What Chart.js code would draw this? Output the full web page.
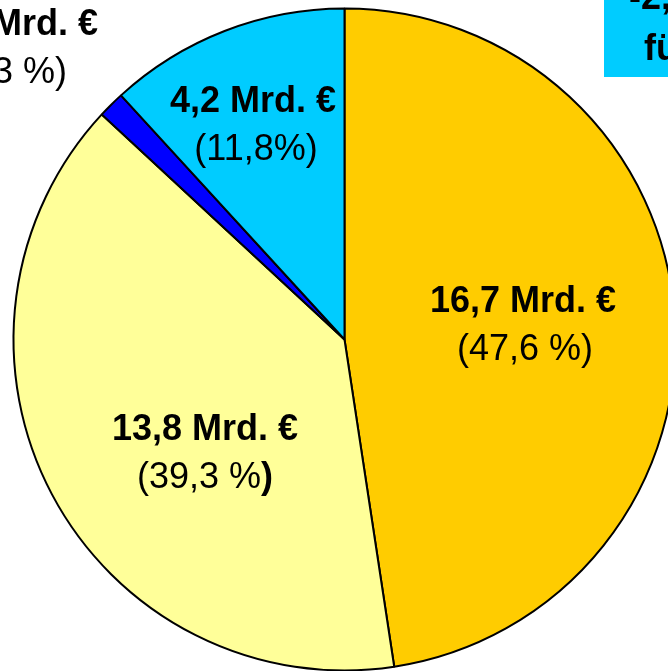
<!DOCTYPE html>
<html>
<head>
<meta charset="utf-8">
<script src="https://cdn.jsdelivr.net/npm/chart.js@4"></script>
<style>
  html, body { margin: 0; padding: 0; background: #fff; overflow: hidden; }
  #wrap { position: relative; width: 668px; height: 671px; overflow: hidden; }
  canvas { position: absolute; left: 0; top: 0; }
</style>
</head>
<body>
<div id="wrap"><canvas id="pie" width="689" height="679"></canvas></div>
<script>
// slice data, clockwise from 12 o'clock
const categories = ["A", "B", "C", "D"];
const shares = [47.6, 39.3, 1.3, 11.8];
const amountLabels = ["16,7 Mrd. €", "13,8 Mrd. €", "0,5 Mrd. €", "4,2 Mrd. €"];
const shareLabels = ["(47,6 %)", "(39,3 %)", "(1,3 %)", "(11,8%)"];
const boldCloseParen = [false, true, false, false];
const sliceColors = ["#FFCC00", "#FFFF99", "#0000FF", "#00CCFF"];

// where the two text lines of each slice go (center x, baseline of first line)
const labelSpots = [
  { x: 523, y: 312, dx2: 2 },
  { x: 205, y: 440, dx2: 0 },
  { x: 15, y: 35, dx2: -6 },
  { x: 253, y: 112, dx2: 3 },
];

// box in the top right corner, mostly cut off
const noteLines = ["-2,4 Mrd. €", "für"];

const boldFont = "bold 36px 'Liberation Sans', Arial, sans-serif";
const normalFont = "36px 'Liberation Sans', Arial, sans-serif";
const lineGap = 48;

const labelPlugin = {
  id: "labels",
  afterDraw(chart) {
    const ctx = chart.ctx;
    ctx.save();
    ctx.fillStyle = "#000";
    ctx.textBaseline = "alphabetic";
    labelSpots.forEach((spot, i) => {
      ctx.font = boldFont;
      ctx.textAlign = "center";
      ctx.fillText(amountLabels[i], spot.x, spot.y);

      // second line, maybe with a bold ")" at the end
      const txt = shareLabels[i];
      const x2 = spot.x + spot.dx2;
      const y2 = spot.y + lineGap;
      if (boldCloseParen[i]) {
        const head = txt.slice(0, -1);
        ctx.font = normalFont;
        const wHead = ctx.measureText(head).width;
        ctx.font = boldFont;
        const wTail = ctx.measureText(")").width;
        const left = x2 - (wHead + wTail) / 2;
        ctx.textAlign = "left";
        ctx.font = normalFont;
        ctx.fillText(head, left, y2);
        ctx.font = boldFont;
        ctx.fillText(")", left + wHead, y2);
      } else {
        ctx.font = normalFont;
        ctx.textAlign = "center";
        ctx.fillText(txt, x2, y2);
      }
    });

    // cyan note box
    ctx.fillStyle = "#00CCFF";
    ctx.fillRect(604, 0, 100, 77);
    ctx.fillStyle = "#000";
    ctx.font = boldFont;
    ctx.textAlign = "left";
    ctx.fillText(noteLines[0], 629, 9);
    ctx.fillText(noteLines[1], 644, 60);
    ctx.restore();
  },
};

const ctx = document.getElementById("pie").getContext("2d");
new Chart(ctx, {
  type: "pie",
  data: {
    labels: categories,
    datasets: [
      {
        data: shares,
        backgroundColor: sliceColors,
        borderColor: "#000",
        borderWidth: 2,
      },
    ],
  },
  options: {
    responsive: false,
    animation: false,
    devicePixelRatio: 1,
    radius: 331,
    layout: { padding: 0 },
    plugins: {
      legend: { display: false },
      tooltip: { enabled: false },
    },
  },
  plugins: [labelPlugin],
});
</script>
</body>
</html>
